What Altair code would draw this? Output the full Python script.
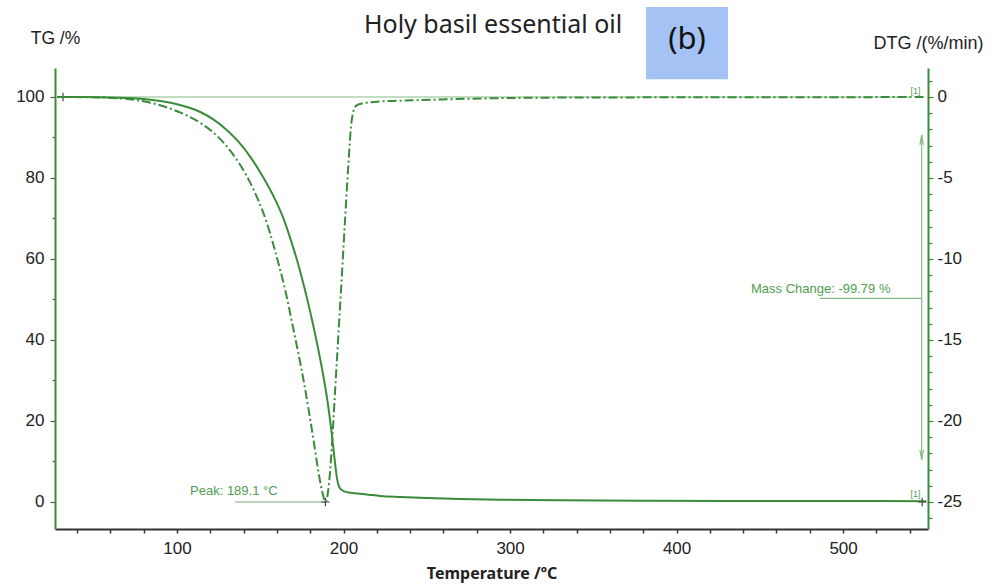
import altair as alt
import pandas as pd

# ---- data ----
tg_temp = [28, 40, 50, 60, 70, 80, 90, 100, 107, 114, 122, 130, 137, 144, 152, 159, 164, 168,
           172, 175, 178, 182, 185, 188, 190.5, 193, 194.5, 196, 197.5, 200, 204, 208, 215, 222,
           234, 250, 270, 294, 330, 380, 430, 480, 520, 550]
tg_mass = [100, 100, 99.95, 99.9, 99.75, 99.5, 99.0, 98.2, 97.4, 96.3, 94.4, 91.8, 88.9, 85.2,
           80.0, 74.6, 69.9, 65.1, 59.8, 55.3, 50.4, 43.2, 37.3, 30.8, 24.5, 16.5, 11.0, 6.0,
           3.6, 2.7, 2.3, 2.1, 1.8, 1.5, 1.25, 1.0, 0.75, 0.55, 0.4, 0.32, 0.27, 0.24, 0.22, 0.2]

dtg_temp = [28, 50, 65, 75, 84, 94, 104, 114, 124, 134, 144, 154, 162, 164, 170, 176, 182, 185,
            187.5, 189.1, 190.5, 192, 193, 195, 197, 199, 201, 203, 204.5, 206, 208, 212, 220,
            234, 260, 300, 350, 400, 450, 500, 550]
dtg_rate = [0, -0.02, -0.08, -0.18, -0.35, -0.65, -1.05, -1.6, -2.4, -3.6, -5.3, -7.8, -10.7,
            -11.5, -14.4, -17.5, -21.2, -23.2, -24.5, -25.0, -24.5, -23.0, -21.5, -18.0, -14.5,
            -11.0, -7.4, -4.0, -1.8, -0.85, -0.5, -0.38, -0.29, -0.23, -0.15, -0.06, -0.03,
            -0.02, -0.01, -0.01, 0.0]

x_ticks = list(range(40, 541, 20))
tg_ticks = list(range(0, 101, 10))
dtg_ticks = list(range(-26, 2))

peak_temp = 189.1
mass_change = -99.79

# ---- styles ----
GREEN = "#3a8c3a"
LIGHT = "#86bd86"
TEXTG = "#4f9e4f"
X_DOMAIN = [26.7, 551]
TG_DOMAIN = [-6.67, 107.16]
DTG_DOMAIN = [-26.67, 1.79]

tg_df = pd.DataFrame({"T": tg_temp, "TG": tg_mass})
dtg_df = pd.DataFrame({"T": dtg_temp, "DTG": dtg_rate})


def xenc(field="T"):
    return alt.X(
        f"{field}:Q",
        scale=alt.Scale(domain=X_DOMAIN, nice=False, zero=False),
        axis=alt.Axis(
            values=x_ticks,
            labelExpr="datum.value % 100 == 0 ? datum.label : ''",
            title="Temperature /ºC",
            titleFont="Noto Sans", titleFontSize=16, titleFontWeight="bold", titleColor="#222",
            titlePadding=9,
            labelFont="Liberation Sans", labelFontSize=17, labelColor="#222",
            labelPadding=7, labelFlush=False, labelOverlap=False,
            domainColor="#333", domainWidth=2, tickColor="#333", tickSize=4, tickWidth=1.5,
            grid=False,
        ),
    )


def yenc(field="TG"):
    return alt.Y(
        f"{field}:Q",
        scale=alt.Scale(domain=TG_DOMAIN, nice=False, zero=False),
        axis=alt.Axis(
            orient="left",
            values=tg_ticks,
            labelExpr="datum.value % 20 == 0 ? datum.label : ''",
            title="TG /%",
            titleAngle=0, titleX=0, titleY=-30, titleAlign="center", titleBaseline="middle",
            titleFont="Liberation Sans", titleFontSize=17.5, titleFontWeight="normal", titleColor="#222",
            labelFont="Liberation Sans", labelFontSize=17, labelColor="#222",
            labelPadding=6, labelOverlap=False, labelFlush=False,
            domainColor=GREEN, domainWidth=2, tickColor="#555", tickWidth=1.2,
            tickSize={"condition": {"test": "datum.value % 20 == 0", "value": 5}, "value": 3},
            grid=False,
        ),
    )


tg_line = alt.Chart(tg_df).mark_line(color=GREEN, strokeWidth=2, interpolate="monotone").encode(
    x=xenc(), y=yenc()
)

# baseline at 100 %
base_df = pd.DataFrame({"T": [31.5], "T2": [540], "TG": [100]})
base_rule = alt.Chart(base_df).mark_rule(color=LIGHT, strokeWidth=1.2).encode(
    x=xenc(), x2="T2:Q", y=yenc()
)

# peak annotation
peak_df = pd.DataFrame({"T": [134.8], "T2": [peak_temp], "TG": [0]})
peak_rule = alt.Chart(peak_df).mark_rule(color="#7fa87f", strokeWidth=1.2).encode(
    x=xenc(), x2="T2:Q", y=yenc()
)
peak_txt_df = pd.DataFrame({"T": [107.8], "TG": [0.9], "label": [f"Peak: {peak_temp} °C"]})
peak_text = alt.Chart(peak_txt_df).mark_text(
    align="left", baseline="bottom", font="Liberation Sans", fontSize=13, color=TEXTG
).encode(x=xenc(), y=yenc(), text="label:N")

# mass change annotation
mv_df = pd.DataFrame({"T": [547.2], "TG": [90.6], "TG2": [10.4]})
mass_v = alt.Chart(mv_df).mark_rule(color=LIGHT, strokeWidth=1.2).encode(
    x=xenc(), y=yenc(), y2="TG2:Q"
)
mh_df = pd.DataFrame({"T": [486], "T2": [547.2], "TG": [50.3]})
mass_h = alt.Chart(mh_df).mark_rule(color=LIGHT, strokeWidth=1.2).encode(
    x=xenc(), x2="T2:Q", y=yenc()
)
up_df = pd.DataFrame({"T": [547.2], "TG": [89.4]})
arrow_up = alt.Chart(up_df).mark_point(
    shape="M-0.35,1L0,-1L0.35,1", size=100, filled=False, color=LIGHT, strokeWidth=1.2, opacity=1
).encode(x=xenc(), y=yenc())
dn_df = pd.DataFrame({"T": [547.2], "TG": [11.6]})
arrow_dn = alt.Chart(dn_df).mark_point(
    shape="M-0.35,-1L0,1L0.35,-1", size=100, filled=False, color=LIGHT, strokeWidth=1.2, opacity=1
).encode(x=xenc(), y=yenc())
mass_txt_df = pd.DataFrame({"T": [444.7], "TG": [50.9], "label": [f"Mass Change: {mass_change} %"]})
mass_text = alt.Chart(mass_txt_df).mark_text(
    align="left", baseline="bottom", font="Liberation Sans", fontSize=13, color=TEXTG
).encode(x=xenc(), y=yenc(), text="label:N")

# [1] markers
br_df = pd.DataFrame({"T": [546.5, 546.5], "TG": [100.3, 0.7], "label": ["[1]", "[1]"]})
br_text = alt.Chart(br_df).mark_text(
    align="right", baseline="bottom", font="Liberation Sans", fontSize=9, color=TEXTG
).encode(x=xenc(), y=yenc(), text="label:N")

# + markers
plus_df = pd.DataFrame({"T": [31.5, peak_temp, 547.5], "TG": [100, 0, 0]})
plus_pts = alt.Chart(plus_df).mark_point(
    shape="M-1,0L1,0M0,-1L0,1", size=70, filled=False, color="#444", strokeWidth=1.2, opacity=1
).encode(x=xenc(), y=yenc())

# title and (b) label
box_df = pd.DataFrame({"T": [381.7], "T2": [430.9], "TG": [104.4], "TG2": [122.2]})
box = alt.Chart(box_df).mark_rect(color="#a4c2f4").encode(
    x=xenc(), x2="T2:Q", y=yenc(), y2="TG2:Q"
)
b_df = pd.DataFrame({"T": [406.3], "TG": [114.0], "label": ["(b)"]})
b_text = alt.Chart(b_df).mark_text(
    align="center", baseline="middle", font="Noto Sans", fontSize=31, color="#111"
).encode(x=xenc(), y=yenc(), text="label:N")
title_df = pd.DataFrame({"T": [289.8], "TG": [117.7], "label": ["Holy basil essential oil"]})
title_text = alt.Chart(title_df).mark_text(
    align="center", baseline="middle", font="Noto Sans", fontSize=25, color="#222"
).encode(x=xenc(), y=yenc(), text="label:N")

tg_group = alt.layer(
    box, b_text, title_text, base_rule, tg_line, peak_rule, peak_text,
    mass_v, mass_h, arrow_up, arrow_dn, mass_text, br_text, plus_pts,
)

dtg_line = alt.Chart(dtg_df).mark_line(
    color=GREEN, strokeWidth=2, strokeDash=[9, 3, 2, 3], interpolate="monotone"
).encode(
    x=xenc(),
    y=alt.Y(
        "DTG:Q",
        scale=alt.Scale(domain=DTG_DOMAIN, nice=False, zero=False),
        axis=alt.Axis(
            orient="right",
            values=dtg_ticks,
            labelExpr="datum.value % 5 == 0 ? '' + datum.value : ''",
            title="DTG /(%/min)",
            titleAngle=0, titleX=0, titleY=-25, titleAlign="center", titleBaseline="middle",
            titleFont="Liberation Sans", titleFontSize=18, titleFontWeight="normal", titleColor="#222",
            labelFont="Liberation Sans", labelFontSize=17, labelColor="#222",
            labelPadding=4, labelOverlap=False, labelFlush=False,
            domainColor=GREEN, domainWidth=2, tickColor=GREEN, tickWidth=1.2,
            tickSize={"condition": {"test": "datum.value % 5 == 0", "value": 5}, "value": 4},
            grid=False,
        ),
    ),
)

chart = alt.layer(tg_group, dtg_line).resolve_scale(y="independent").properties(
    width=873,
    height=461,
    padding={"left": 55, "top": 68, "right": 66, "bottom": 56},
    autosize=alt.AutoSizeParams(type="none"),
    background="white",
).configure_view(stroke=None)

chart.save("out.html", embed_options={"renderer": "svg", "actions": False})
